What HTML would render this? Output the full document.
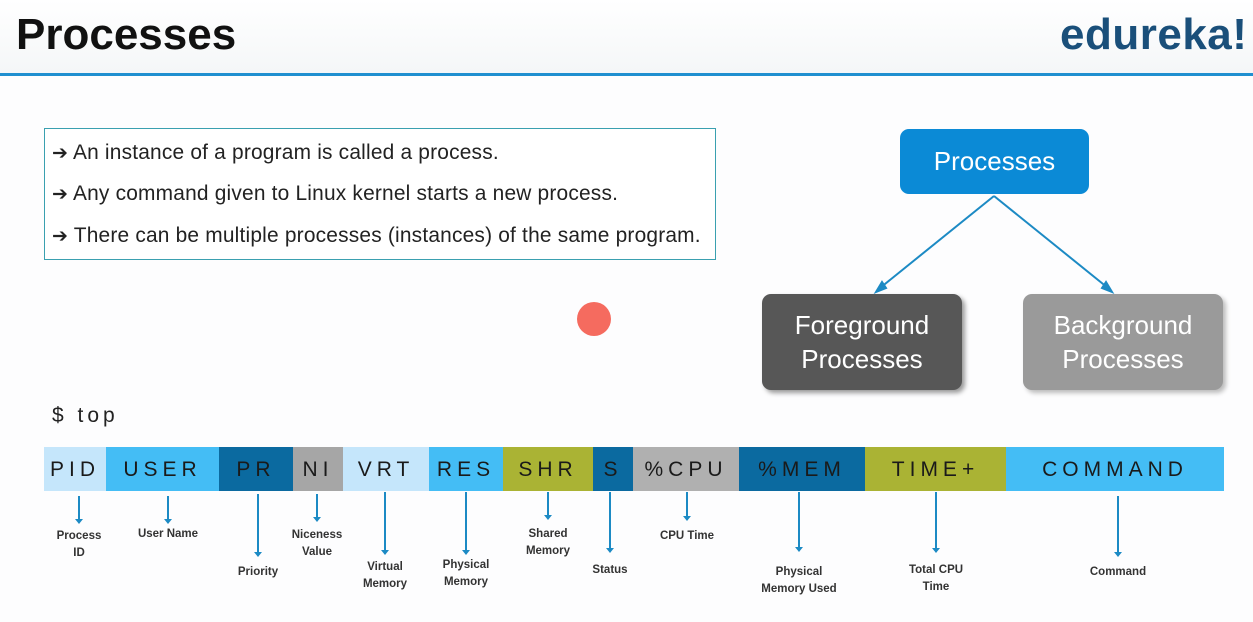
<!DOCTYPE html>
<html><head><meta charset="utf-8"><style>
body{margin:0;width:1253px;height:622px;overflow:hidden;background:#fdfdfe;font-family:"Liberation Sans",sans-serif;position:relative}
.a{position:absolute}
.seg{position:absolute;top:447px;height:44px;line-height:46px;text-align:center;font-size:21px;letter-spacing:5px;color:#1a1a1a}
.lab{position:absolute;font-size:11.5px;font-weight:bold;color:#333;text-align:center;width:120px;line-height:17px}
.ln{position:absolute;width:2px;background:#1c8ac4}
.ln:after{content:"";position:absolute;left:-3px;bottom:-3px;border-left:4px solid transparent;border-right:4px solid transparent;border-top:5px solid #1c8ac4}
.box{position:absolute;color:#fff;font-size:26px;text-align:center;border-radius:9px}
.bl{position:absolute;left:52px;font-size:20.9px;color:#222;white-space:nowrap;letter-spacing:0.2px}
.bl b{font-family:"DejaVu Sans",sans-serif;font-size:19px}
</style></head><body>
<div class="a" style="left:0;top:0;width:1253px;height:74px;background:linear-gradient(#fff,#f4f6f8)"></div>
<div class="a" style="left:16px;top:10px;font-size:44px;font-weight:bold;color:#111">Processes</div>
<div class="a" style="left:1060px;top:10px;font-size:44px;font-weight:bold;color:#1a4f7a;letter-spacing:0.5px;white-space:nowrap">edureka!</div>
<div class="a" style="left:0;top:73px;width:1253px;height:3px;background:#1f8fd0"></div>

<div class="a" style="left:44px;top:128px;width:670px;height:130px;border:1px solid #3aa0b0;background:rgba(255,255,255,.7)"></div>
<div class="bl" style="top:141px"><b>➔</b> An instance of a program is called a process.</div>
<div class="bl" style="top:182px"><b>➔</b> Any command given to Linux kernel starts a new process.</div>
<div class="bl" style="top:224px"><b>➔</b> There can be multiple processes (instances) of the same program.</div>

<div class="a" style="left:577px;top:302px;width:34px;height:34px;border-radius:50%;background:#f56b5f"></div>

<div class="box" style="left:900px;top:129px;width:189px;height:65px;line-height:65px;background:#0b8ad6">Processes</div>
<div class="box" style="left:762px;top:294px;width:200px;height:96px;background:#575757;line-height:34px;padding-top:14px;box-sizing:border-box;box-shadow:3px 3px 5px #999">Foreground<br>Processes</div>
<div class="box" style="left:1023px;top:294px;width:200px;height:96px;background:#9a9a9a;line-height:34px;padding-top:14px;box-sizing:border-box;box-shadow:3px 3px 5px #bbb">Background<br>Processes</div>
<svg class="a" style="left:0;top:0" width="1253" height="622"><g stroke="#1c8ac4" stroke-width="2" fill="#1c8ac4">
<line x1="994" y1="196" x2="880" y2="288"/><polygon points="876,292 882,282 886,288"/>
<line x1="994" y1="196" x2="1108" y2="288"/><polygon points="1112,292 1102,288 1106,282"/></g></svg>

<div class="a" style="left:52px;top:404px;font-size:21px;letter-spacing:4px;color:#222">$ top</div>

<div class="seg" style="left:44px;width:62px;background:#c5e6fb">PID</div>
<div class="seg" style="left:106px;width:113px;background:#44bdf5">USER</div>
<div class="seg" style="left:219px;width:74px;background:#0b6aa0">PR</div>
<div class="seg" style="left:293px;width:50px;background:#a6a6a6">NI</div>
<div class="seg" style="left:343px;width:86px;background:#c5e6fb">VRT</div>
<div class="seg" style="left:429px;width:74px;background:#44bdf5">RES</div>
<div class="seg" style="left:503px;width:90px;background:#aab334">SHR</div>
<div class="seg" style="left:593px;width:40px;background:#0b6aa0">S</div>
<div class="seg" style="left:633px;width:106px;background:#b0b0b0">%CPU</div>
<div class="seg" style="left:739px;width:126px;background:#0b6aa0">%MEM</div>
<div class="seg" style="left:865px;width:141px;background:#aab334">TIME+</div>
<div class="seg" style="left:1006px;width:218px;background:#44bdf5">COMMAND</div>

<div class="ln" style="left:78px;top:496px;height:25px"></div><div class="lab" style="left:19px;top:528px">Process<br>ID</div>
<div class="ln" style="left:167px;top:496px;height:25px"></div><div class="lab" style="left:108px;top:526px">User Name</div>
<div class="ln" style="left:257px;top:494px;height:60px"></div><div class="lab" style="left:198px;top:564px">Priority</div>
<div class="ln" style="left:316px;top:494px;height:25px"></div><div class="lab" style="left:257px;top:527px">Niceness<br>Value</div>
<div class="ln" style="left:384px;top:492px;height:60px"></div><div class="lab" style="left:325px;top:559px">Virtual<br>Memory</div>
<div class="ln" style="left:465px;top:492px;height:60px"></div><div class="lab" style="left:406px;top:557px">Physical<br>Memory</div>
<div class="ln" style="left:547px;top:492px;height:25px"></div><div class="lab" style="left:488px;top:526px">Shared<br>Memory</div>
<div class="ln" style="left:609px;top:492px;height:58px"></div><div class="lab" style="left:550px;top:562px">Status</div>
<div class="ln" style="left:686px;top:492px;height:26px"></div><div class="lab" style="left:627px;top:528px">CPU Time</div>
<div class="ln" style="left:798px;top:492px;height:57px"></div><div class="lab" style="left:739px;top:564px">Physical<br>Memory Used</div>
<div class="ln" style="left:935px;top:492px;height:58px"></div><div class="lab" style="left:876px;top:562px">Total CPU<br>Time</div>
<div class="ln" style="left:1117px;top:496px;height:58px"></div><div class="lab" style="left:1058px;top:564px">Command</div>
</body></html>
